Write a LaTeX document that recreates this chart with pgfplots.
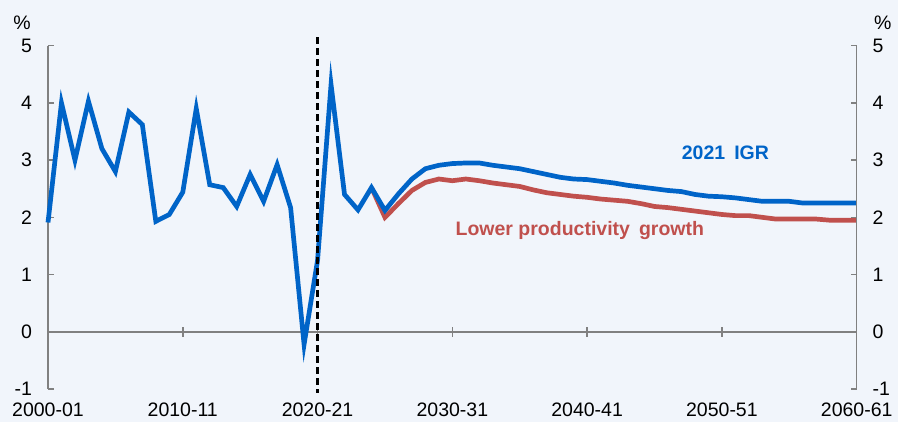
\documentclass[border=0pt]{standalone}
\usepackage{pgfplots}
\pgfplotsset{compat=1.18}
\usepackage{fontspec}
\setmainfont{Liberation Sans}
\definecolor{igrblue}{RGB}{0,100,200}
\definecolor{lowred}{RGB}{192,80,77}
\definecolor{axisgray}{RGB}{128,128,128}
\definecolor{bgcol}{RGB}{241,245,251}
\newcommand\tickfont{\fontsize{19.5}{23}\selectfont}
% x = years after 2000 (0 = 2000-01, 60 = 2060-61)
\begin{document}
\begin{tikzpicture}
\fill[bgcol] (-48pt,-33pt) rectangle (850pt,389pt);
\begin{axis}[
  scale only axis, width=808.7pt, height=343.3pt,
  xmin=0, xmax=60, ymin=-1, ymax=5,
  axis x line*=bottom, axis y line*=left,
  xtick pos=bottom, ytick pos=left, yticklabel pos=left,
  x axis line style={draw=none},
  y axis line style={draw=axisgray, line width=1.5pt, -},
  xtick={0,10,...,60},
  xticklabels={2000-01,2010-11,2020-21,2030-31,2040-41,2050-51,2060-61},
  x tick style={draw=none},
  ytick={-1,0,...,5},
  y tick style={draw=axisgray, line width=1.5pt},
  tick align=inside, major tick length=6pt,
  /pgf/number format/assume math mode=true,
  ticklabel style={font=\tickfont, text=black},
  yticklabel style={xshift=-12.5pt},
  xticklabel style={yshift=-10.5pt},
  clip=false,
]
\draw[axisgray, line width=1.5pt] (axis cs:0,0) -- (axis cs:60,0);
\pgfplotsinvokeforeach{10,20,30,40,50}{
  \draw[axisgray, line width=1.5pt] ([yshift=-5pt]axis cs:#1,0) -- ([yshift=5pt]axis cs:#1,0);
}
\addplot[lowred, line width=4.7pt, miter limit=20] coordinates {
(24,2.52) (25,2.00) (26,2.24) (27,2.47) (28,2.61) (29,2.67)
(30,2.64) (31,2.67) (32,2.64) (33,2.60) (34,2.57) (35,2.54)
(36,2.48) (37,2.43) (38,2.40) (39,2.37) (40,2.35) (41,2.32)
(42,2.30) (43,2.28) (44,2.24) (45,2.19) (46,2.17) (47,2.14)
(48,2.11) (49,2.08) (50,2.05) (51,2.03) (52,2.03) (53,2.00)
(54,1.97) (55,1.97) (56,1.97) (57,1.97) (58,1.95) (59,1.95)
(60,1.95)
};
\addplot[igrblue, line width=4.7pt, miter limit=20] coordinates {
(0,1.91) (1,4.00) (2,3.00) (3,4.03) (4,3.20) (5,2.80)
(6,3.84) (7,3.62) (8,1.93) (9,2.05) (10,2.44) (11,3.90)
(12,2.57) (13,2.52) (14,2.19) (15,2.75) (16,2.28) (17,2.92)
(18,2.17) (19,-0.22) (20,1.25) (21,4.32) (22,2.40) (23,2.13)
(24,2.52) (25,2.12) (26,2.41) (27,2.67) (28,2.85) (29,2.91)
(30,2.94) (31,2.95) (32,2.95) (33,2.91) (34,2.88) (35,2.85)
(36,2.80) (37,2.75) (38,2.70) (39,2.67) (40,2.66) (41,2.63)
(42,2.60) (43,2.56) (44,2.53) (45,2.50) (46,2.47) (47,2.45)
(48,2.40) (49,2.37) (50,2.36) (51,2.34) (52,2.31) (53,2.28)
(54,2.28) (55,2.28) (56,2.25) (57,2.25) (58,2.25) (59,2.25)
(60,2.25)
};
\draw[black, line width=2.5pt, dash pattern=on 7pt off 4pt] (axis cs:20,5.15) -- (axis cs:20,-1.07);
\node[font=\tickfont\bfseries, text=igrblue] at (axis cs:50.26,3.13) {2021\hspace{9pt}IGR};
\node[font=\tickfont\bfseries, text=lowred] at (axis cs:39.46,1.77) {Lower productivity\hspace{9pt}growth};
\node[font=\tickfont] at (rel axis cs:0,1) [xshift=-26pt, yshift=22.7pt] {\%};
\end{axis}
\begin{axis}[
  scale only axis, width=808.7pt, height=343.3pt,
  xmin=0, xmax=60, ymin=-1, ymax=5,
  axis x line=none,
  axis y line*=right, ytick pos=right, yticklabel pos=right,
  y axis line style={draw=axisgray, line width=1.5pt, -},
  ytick={-1,0,...,5},
  y tick style={draw=axisgray, line width=1.5pt},
  tick align=inside, major tick length=6pt,
  /pgf/number format/assume math mode=true,
  ticklabel style={font=\tickfont, text=black},
  yticklabel style={xshift=12.5pt},
  clip=false,
]
\node[font=\tickfont] at (rel axis cs:1,1) [xshift=26pt, yshift=22.7pt] {\%};
\end{axis}
\pgfresetboundingbox
\useasboundingbox (-48pt,-33pt) rectangle (850pt,389pt);
\end{tikzpicture}
\end{document}
